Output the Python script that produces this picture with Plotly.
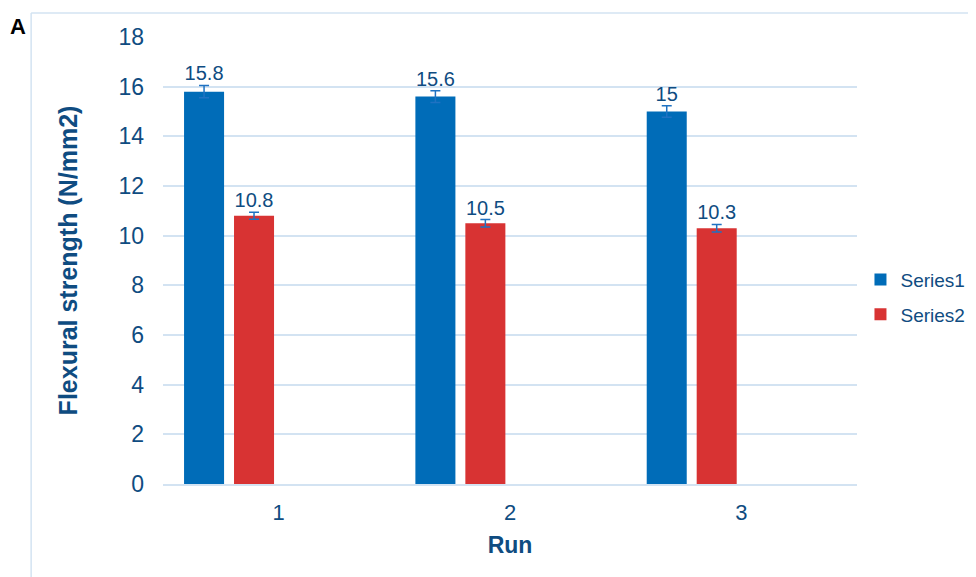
import plotly.graph_objects as go

runs = [1, 2, 3]
series1 = [15.8, 15.6, 15.0]
series2 = [10.8, 10.5, 10.3]
err1 = [0.25, 0.24, 0.23]
err2 = [0.14, 0.15, 0.15]
labels1 = ["15.8", "15.6", "15"]
labels2 = ["10.8", "10.5", "10.3"]
yticks = [0, 2, 4, 6, 8, 10, 12, 14, 16, 18]

TXT = "#0F4C81"
ERRC = "#1F72C2"
GRID = "#D3E3F2"
FONT = "Liberation Sans, Arial, sans-serif"

W = 0.173
OFF1 = -0.409
OFF2 = -0.193

fig = go.Figure()
fig.add_trace(go.Bar(
    x=runs, y=series1, name="Series1", offset=OFF1, width=W,
    marker=dict(color="#006CB8", line=dict(width=0)),
    error_y=dict(type="data", array=err1, color=ERRC, thickness=1.5, width=5),
    legendgroup="a",
))
fig.add_trace(go.Bar(
    x=runs, y=series2, name="Series2", offset=OFF2, width=W,
    marker=dict(color="#D83333", line=dict(width=0)),
    error_y=dict(type="data", array=err2, color=ERRC, thickness=1.5, width=5),
    legendgroup="b",
))
fig.add_trace(go.Scatter(
    x=[r + OFF1 + W / 2 for r in runs],
    y=[v + e for v, e in zip(series1, err1)],
    text=labels1, mode="text", textposition="top center",
    textfont=dict(size=20, color=TXT, family=FONT),
    showlegend=False, hoverinfo="skip", cliponaxis=False,
))
fig.add_trace(go.Scatter(
    x=[r + OFF2 + W / 2 for r in runs],
    y=[v + e for v, e in zip(series2, err2)],
    text=labels2, mode="text", textposition="top center",
    textfont=dict(size=20, color=TXT, family=FONT),
    showlegend=False, hoverinfo="skip", cliponaxis=False,
))

fig.update_layout(
    width=968, height=569,
    margin=dict(l=155, r=119, t=29, b=93, autoexpand=False),
    paper_bgcolor="white", plot_bgcolor="white",
    barmode="overlay",
    font=dict(family=FONT, color=TXT, size=19),
    showlegend=True,
    legend=dict(x=1.005, y=0.418, xanchor="left", yanchor="middle",
                font=dict(size=19, color=TXT), tracegroupgap=7, itemwidth=30,
                traceorder="grouped", bgcolor="rgba(0,0,0,0)"),
    xaxis=dict(range=[0.5, 3.5], tickvals=runs, ticktext=[str(r) for r in runs],
               showgrid=False, zeroline=False, showline=True, linecolor=GRID, linewidth=2,
               tickfont=dict(size=22, color=TXT), ticklabelstandoff=8, automargin=False,
               title=dict(text="<b>Run</b>", font=dict(size=23, color=TXT), standoff=12)),
    yaxis=dict(range=[0, 18], tickvals=yticks, showgrid=True, gridcolor=GRID, gridwidth=1.5,
               zeroline=False, showline=False, automargin=False,
               tickfont=dict(size=23, color=TXT), ticklabelstandoff=18,
               title=dict(text="<b>Flexural strength (N/mm2)</b>", font=dict(size=25, color=TXT),
                          standoff=33)),
    shapes=[
        dict(type="line", xref="paper", yref="paper", x0=-0.190, x1=-0.190, y0=-0.4, y1=1.0537,
             line=dict(color=GRID, width=1.5)),
        dict(type="line", xref="paper", yref="paper", x0=-0.190, x1=1.3, y0=1.0537, y1=1.0537,
             line=dict(color=GRID, width=1.5)),
    ],
    annotations=[
        dict(text="<b>A</b>", xref="paper", yref="paper", x=-0.209, y=1.0224,
             showarrow=False, font=dict(size=22, color="black", family=FONT),
             xanchor="center", yanchor="middle"),
    ],
)

fig.write_html("out.html")
